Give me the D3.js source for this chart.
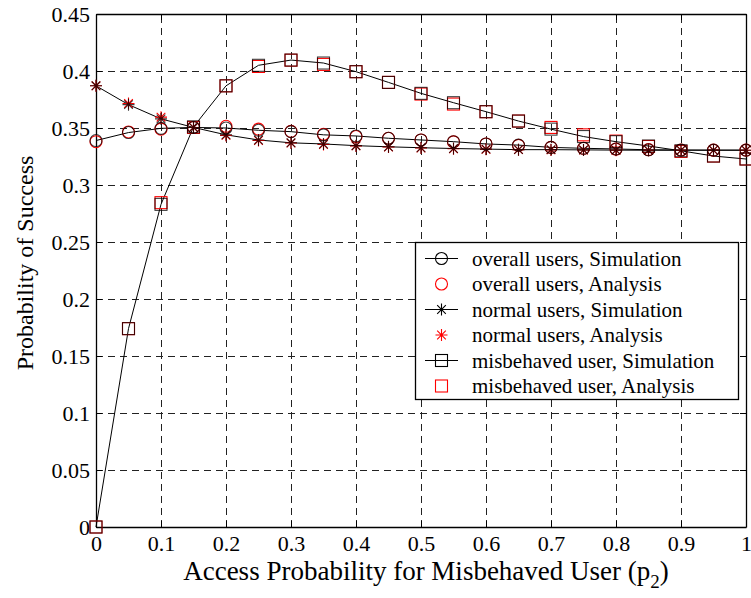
<!DOCTYPE html>
<html>
<head>
<meta charset="utf-8">
<script src="https://cdn.jsdelivr.net/npm/d3@7"></script>
<style>
  html, body { margin: 0; padding: 0; background: #fff; }
  svg { display: block; font-family: "Liberation Serif", "Times New Roman", serif; }
</style>
</head>
<body>
<svg id="chart" width="751" height="598"></svg>
<script>
// Access probability of the misbehaved user
const p2 = [0, 0.05, 0.1, 0.15, 0.2, 0.25, 0.3, 0.35, 0.4, 0.45, 0.5,
            0.55, 0.6, 0.65, 0.7, 0.75, 0.8, 0.85, 0.9, 0.95, 1];

// Probability of success, per user group
const overallSim = [0.339, 0.346, 0.3497, 0.3505, 0.350, 0.348, 0.3468, 0.344, 0.343, 0.341, 0.3395,
                    0.338, 0.336, 0.335, 0.333, 0.3322, 0.3316, 0.3309, 0.3307, 0.3306, 0.3306];
const overallAna = [0.338, 0.3465, 0.349, 0.3505, 0.3515, 0.349, 0.347, 0.3445, 0.3425, 0.341, 0.3395,
                    0.3378, 0.336, 0.3348, 0.333, 0.3322, 0.3315, 0.331, 0.3307, 0.3306, 0.3306];
const normalSim  = [0.387, 0.3705, 0.358, 0.3505, 0.344, 0.3395, 0.337, 0.336, 0.3345, 0.3335, 0.3327,
                    0.332, 0.3315, 0.331, 0.331, 0.3308, 0.3306, 0.3305, 0.3305, 0.3305, 0.3305];
const normalAna  = [0.387, 0.3715, 0.3595, 0.3505, 0.3435, 0.339, 0.3368, 0.3355, 0.3343, 0.3333, 0.3325,
                    0.3318, 0.3313, 0.331, 0.3308, 0.3307, 0.3305, 0.3305, 0.3305, 0.3305, 0.3305];
const misbehSim  = [0, 0.174, 0.283, 0.351, 0.387, 0.405, 0.4096, 0.407, 0.3994, 0.390, 0.3804,
                    0.3722, 0.3643, 0.3561, 0.349, 0.3425, 0.338, 0.3342, 0.330, 0.3254, 0.3228];
const misbehAna  = [0, 0.174, 0.2845, 0.3505, 0.387, 0.404, 0.4095, 0.4058, 0.3994, 0.390, 0.3798,
                    0.371, 0.3643, 0.3561, 0.3505, 0.344, 0.3385, 0.3338, 0.3295, 0.3254, 0.3228];

const xTicks = [0, 0.1, 0.2, 0.3, 0.4, 0.5, 0.6, 0.7, 0.8, 0.9, 1];
const yTicks = [0, 0.05, 0.1, 0.15, 0.2, 0.25, 0.3, 0.35, 0.4, 0.45];

const legendLabels = [
  "overall users, Simulation",
  "overall users, Analysis",
  "normal users, Simulation",
  "normal users, Analysis",
  "misbehaved user, Simulation",
  "misbehaved user, Analysis"
];

const svg = d3.select("#chart");
const plot = { left: 96, right: 746, top: 14, bottom: 527 };

const x = d3.scaleLinear().domain([0, 1]).range([plot.left, plot.right]);
const y = d3.scaleLinear().domain([0, 0.45]).range([plot.bottom, plot.top]);

// dashed grid
const grid = svg.append("g").attr("stroke", "#222").attr("stroke-width", 1)
  .attr("stroke-dasharray", "7,5").attr("shape-rendering", "crispEdges");
xTicks.slice(1, -1).forEach(t => {
  grid.append("line").attr("x1", Math.round(x(t)) + 0.5).attr("x2", Math.round(x(t)) + 0.5)
    .attr("y1", plot.bottom).attr("y2", plot.top);
});
yTicks.slice(1, -1).forEach(t => {
  grid.append("line").attr("y1", Math.round(y(t)) + 0.5).attr("y2", Math.round(y(t)) + 0.5)
    .attr("x1", plot.left).attr("x2", plot.right);
});

// axes with inward ticks
const fmt = d => d === 0 ? "0" : (d === 1 ? "1" : String(d));
const xAxis = d3.axisBottom(x).tickValues(xTicks).tickSizeInner(-6).tickSizeOuter(0).tickPadding(8).tickFormat(fmt);
const yAxis = d3.axisLeft(y).tickValues(yTicks).tickSizeInner(-6).tickSizeOuter(0).tickPadding(6).tickFormat(fmt);
const xTop = d3.axisTop(x).tickValues(xTicks).tickSizeInner(-6).tickSizeOuter(0).tickFormat("");
const yRight = d3.axisRight(y).tickValues(yTicks).tickSizeInner(-6).tickSizeOuter(0).tickFormat("");

function styleAxis(g) {
  g.select(".domain").attr("stroke", "#000").attr("stroke-width", 1.3);
  g.selectAll(".tick line").attr("stroke", "#000");
  g.selectAll(".tick text").attr("fill", "#000").attr("font-size", 22)
    .attr("font-family", "Liberation Serif, serif");
}
svg.append("g").attr("transform", `translate(0,${plot.bottom})`).call(xAxis).call(styleAxis);
svg.append("g").attr("transform", `translate(${plot.left},0)`).call(yAxis).call(styleAxis);
svg.append("g").attr("transform", `translate(0,${plot.top})`).call(xTop).call(styleAxis);
svg.append("g").attr("transform", `translate(${plot.right},0)`).call(yRight).call(styleAxis);

// marker shapes
function drawMarker(g, kind, cx, cy, color) {
  const r = 6;
  if (kind === "circle") {
    g.append("circle").attr("cx", cx).attr("cy", cy).attr("r", r)
      .attr("fill", "none").attr("stroke", color).attr("stroke-width", 1.1);
  } else if (kind === "square") {
    g.append("rect").attr("x", cx - r).attr("y", cy - r).attr("width", 2 * r).attr("height", 2 * r)
      .attr("fill", "none").attr("stroke", color).attr("stroke-width", 1.1);
  } else {
    const d = r * 0.72;
    const path = `M${cx - r},${cy}L${cx + r},${cy}M${cx},${cy - r}L${cx},${cy + r}` +
      `M${cx - d},${cy - d}L${cx + d},${cy + d}M${cx - d},${cy + d}L${cx + d},${cy - d}`;
    g.append("path").attr("d", path).attr("stroke", color).attr("stroke-width", 1.1).attr("fill", "none");
  }
}

const series = [
  { values: overallSim, kind: "circle", color: "#000", line: true },
  { values: overallAna, kind: "circle", color: "#ff0000", line: false },
  { values: normalSim, kind: "star", color: "#000", line: true },
  { values: normalAna, kind: "star", color: "#ff0000", line: false },
  { values: misbehSim, kind: "square", color: "#000", line: true },
  { values: misbehAna, kind: "square", color: "#ff0000", line: false }
];

const lineGen = d3.line().x((d, i) => x(p2[i])).y(d => y(d));
const plotG = svg.append("g");

// simulation curves
series.filter(s => s.line).forEach(s => {
  plotG.append("path").datum(s.values).attr("d", lineGen)
    .attr("fill", "none").attr("stroke", "#000").attr("stroke-width", 1);
});
// analysis markers (red) beneath simulation markers (black, slightly translucent)
series.filter(s => !s.line).forEach(s => {
  const g = plotG.append("g");
  s.values.forEach((v, i) => drawMarker(g, s.kind, x(p2[i]), y(v), s.color));
});
series.filter(s => s.line).forEach(s => {
  const g = plotG.append("g").attr("opacity", 0.75);
  s.values.forEach((v, i) => drawMarker(g, s.kind, x(p2[i]), y(v), s.color));
});

// legend
const leg = { x: 415, y: 242, w: 323, h: 157, row: 25.5 };
const lg = svg.append("g");
lg.append("rect").attr("x", leg.x + 0.5).attr("y", leg.y + 0.5).attr("width", leg.w).attr("height", leg.h)
  .attr("fill", "#fff").attr("stroke", "#000").attr("stroke-width", 1.3);
series.forEach((s, i) => {
  const cy = leg.y + 16.5 + i * leg.row;
  if (s.line) {
    lg.append("line").attr("x1", 425).attr("x2", 458).attr("y1", cy).attr("y2", cy)
      .attr("stroke", "#000").attr("stroke-width", 1);
  }
  drawMarker(lg, s.kind, 441.5, cy, s.color);
  lg.append("text").attr("x", 472).attr("y", cy + 7).attr("font-size", 21).attr("fill", "#000")
    .text(legendLabels[i]);
});

// axis titles
const xl = svg.append("text").attr("x", 426).attr("y", 580).attr("text-anchor", "middle")
  .attr("font-size", 27).attr("fill", "#000");
xl.append("tspan").text("Access Probability for Misbehaved User (p");
xl.append("tspan").attr("font-size", 19).attr("dy", 8).text("2");
xl.append("tspan").attr("dy", -8).text(")");

svg.append("text").attr("transform", "translate(33,263) rotate(-90)").attr("text-anchor", "middle")
  .attr("font-size", 24).attr("fill", "#000").text("Probability of Success");
</script>
</body>
</html>
